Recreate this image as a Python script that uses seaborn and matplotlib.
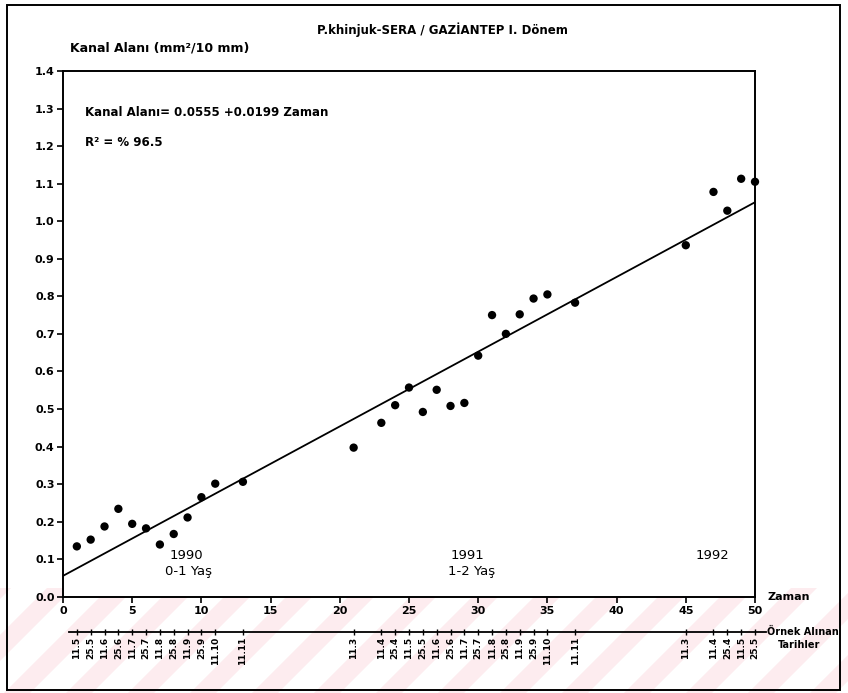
import numpy as np
import pandas as pd
import matplotlib
matplotlib.use("Agg")
import matplotlib.pyplot as plt
from matplotlib.patches import Rectangle, Polygon
import seaborn as sns

# ---------------- data ----------------
zaman = [1, 2, 3, 4, 5, 6, 7, 8, 9, 10, 11, 13,
         21, 23, 24, 25, 26, 27, 28, 29, 30, 31, 32, 33, 34, 35, 37,
         45, 47, 48, 49, 50]
kanal_alani = [0.134, 0.152, 0.187, 0.234, 0.194, 0.182, 0.139, 0.167, 0.211, 0.265, 0.301, 0.306,
               0.397, 0.463, 0.510, 0.557, 0.492, 0.551, 0.508, 0.516, 0.642, 0.750, 0.700, 0.752,
               0.794, 0.805, 0.783,
               0.936, 1.078, 1.028, 1.113, 1.105]
tarihler = ["11.5", "25.5", "11.6", "25.6", "11.7", "25.7", "11.8", "25.8", "11.9", "25.9", "11.10", "11.11",
            "11.3", "11.4", "25.4", "11.5", "25.5", "11.6", "25.6", "11.7", "25.7", "11.8", "25.8", "11.9",
            "25.9", "11.10", "11.11",
            "11.3", "11.4", "25.4", "11.5", "25.5"]
intercept = 0.0555
slope = 0.0199
x_ticks = [0, 5, 10, 15, 20, 25, 30, 35, 40, 45, 50]
y_ticks = [0.0, 0.1, 0.2, 0.3, 0.4, 0.5, 0.6, 0.7, 0.8, 0.9, 1.0, 1.1, 1.2, 1.3, 1.4]

df = pd.DataFrame({"Zaman": zaman, "Kanal": kanal_alani})
x_line = np.array([0, max(zaman)])
line_df = pd.DataFrame({"Zaman": x_line, "Kanal": intercept + slope * x_line})

# ---------------- style ----------------
sns.set_style("ticks")
plt.rcParams["font.family"] = ["DejaVu Sans"]
plt.rcParams["font.weight"] = "bold"
plt.rcParams["text.color"] = "black"
plt.rcParams["xtick.color"] = "black"
plt.rcParams["ytick.color"] = "black"
plt.rcParams["xtick.labelcolor"] = "black"
plt.rcParams["ytick.labelcolor"] = "black"

W, H = 848, 693
fig = plt.figure(figsize=(W / 100, H / 100), dpi=100)
fig.patch.set_facecolor("white")

# faint diagonal watermark stripes at the bottom
for x0 in range(-120, 900, 62):
    poly = Polygon([(x0, 0), (x0 + 26, 0), (x0 + 26 + 105, 105), (x0 + 105, 105)],
                   closed=True, transform=None, facecolor="#fdecef", edgecolor="none", zorder=-10)
    fig.patches.append(poly)

# frame around whole figure
fig.patches.append(Rectangle((7 / W, 1 - 690 / H), (840 - 7) / W, (690 - 5) / H,
                             transform=fig.transFigure, fill=False, edgecolor="black",
                             linewidth=1.4, zorder=5))

left, right = 63 / W, 755 / W
bottom, top = 1 - 596.7 / H, 1 - 71 / H
ax = fig.add_axes([left, bottom, right - left, top - bottom])
ax.set_facecolor("white")

sns.lineplot(data=line_df, x="Zaman", y="Kanal", ax=ax, color="black", linewidth=1.3)
sns.scatterplot(data=df, x="Zaman", y="Kanal", ax=ax, color="black", s=36,
                edgecolor="none", clip_on=False, zorder=4)

ax.set_xlim(0, 50)
ax.set_ylim(0, 1.4)
ax.set_xticks(x_ticks)
ax.set_xticklabels([str(t) for t in x_ticks])
ax.set_yticks(y_ticks)
ax.set_yticklabels([f"{t:.1f}" for t in y_ticks])
ax.set_xlabel("")
ax.set_ylabel("")
for s in ax.spines.values():
    s.set_linewidth(1.4)
    s.set_color("black")
ax.tick_params(axis="both", direction="out", length=4, width=1.2, labelsize=8, colors="black")
ax.tick_params(axis="x", pad=3)
ax.tick_params(axis="y", pad=2)

# annotations inside
ax.text(1.6, 1.29, "Kanal Alanı= 0.0555 +0.0199 Zaman", fontsize=8.5, va="center", ha="left")
ax.text(1.6, 1.21, "R² = % 96.5", fontsize=8.5, va="center", ha="left")
ax.text(8.9, 0.109, "1990", fontsize=9.5, fontweight="normal", va="center", ha="center")
ax.text(9.1, 0.067, "0-1 Yaş", fontsize=9.5, fontweight="normal", va="center", ha="center")
ax.text(29.2, 0.109, "1991", fontsize=9.5, fontweight="normal", va="center", ha="center")
ax.text(29.5, 0.067, "1-2 Yaş", fontsize=9.5, fontweight="normal", va="center", ha="center")
ax.text(46.9, 0.109, "1992", fontsize=9.5, fontweight="normal", va="center", ha="center")
ax.text(50.9, 0.0, "Zaman", fontsize=8, va="center", ha="left", clip_on=False)

# titles
fig.text(442 / W, 1 - 30 / H, "P.khinjuk-SERA / GAZİANTEP I. Dönem", fontsize=8.5,
         ha="center", va="center")
fig.text(70 / W, 1 - 48 / H, "Kanal Alanı (mm²/10 mm)", fontsize=9, ha="left", va="center")

# sample date axis
ax2 = fig.add_axes([left, 1 - 632 / H, right - left, 0.0005])
ax2.set_xlim(0, 50)
ax2.set_ylim(0, 1)
ax2.patch.set_alpha(0)
for name in ["top", "left", "right"]:
    ax2.spines[name].set_visible(False)
ax2.spines["bottom"].set_linewidth(1.3)
ax2.spines["bottom"].set_color("black")
ax2.spines["bottom"].set_bounds(0.4, 50.8)
ax2.set_yticks([])
ax2.set_xticks(zaman)
ax2.set_xticklabels(tarihler, rotation=90, fontsize=6.5)
ax2.tick_params(axis="x", direction="inout", length=5, width=1.0, pad=1, colors="black")
fig.text(767 / W, 1 - 632 / H, "Örnek Alınan", fontsize=7, ha="left", va="center")
fig.text(778 / W, 1 - 645 / H, "Tarihler", fontsize=7, ha="left", va="center")

fig.savefig("out.png", dpi=100)
